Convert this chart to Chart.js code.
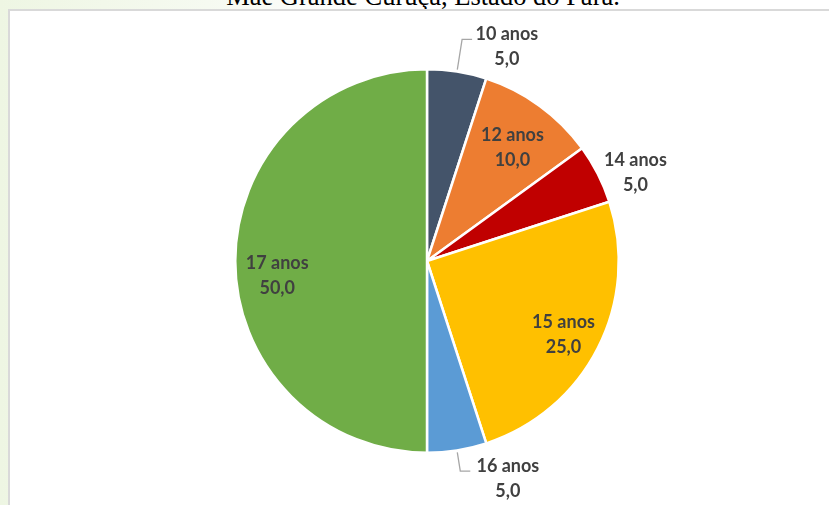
<!DOCTYPE html>
<html>
<head>
<meta charset="utf-8">
<script src="https://cdn.jsdelivr.net/npm/chart.js@4.4.0/dist/chart.umd.min.js"></script>
<style>
  html, body { margin:0; padding:0; }
  body { width:829px; height:505px; overflow:hidden; position:relative;
         background: linear-gradient(90deg, #eef6e3 0%, #f6faf1 25%, #ffffff 45%, #ffffff 100%); }
  #title { position:absolute; left:0; width:846px; top:-17px; text-align:center;
           font-family:"Liberation Serif","Times New Roman",serif; font-size:26.5px; line-height:26.5px; color:#000; white-space:nowrap; }
  #frame { position:absolute; left:8px; top:9px; width:840px; height:520px; border:2px solid #d9d9d9; background:#fff; }
  #c { position:absolute; left:0; top:0; }
</style>
</head>
<body>
<div id="title">Mãe Grande Curuçá, Estado do Pará.</div>
<div id="frame"></div>
<canvas id="c" width="829" height="505"></canvas>
<script>
const categories = ["10 anos", "12 anos", "14 anos", "15 anos", "16 anos", "17 anos"];
const values = [5.0, 10.0, 5.0, 25.0, 5.0, 50.0];
const colors = ["#44546A", "#ED7D31", "#C00000", "#FFC000", "#5B9BD5", "#70AD47"];

// label placement: polar offset from pie centre (deg clockwise from top, radius fraction)
const labelPlacement = [
  {angle: 20.4, r: 1.195, leader: 1.17},
  {angle: 37.0, r: 0.74},
  {angle: 67.1, r: 1.18},
  {angle: 118.5, r: 0.81},
  {angle: 159.6, r: 1.21, leader: 1.11},
  {angle: 264.3, r: 0.785}
];

const labelPlugin = {
  id: 'pieLabels',
  afterDatasetsDraw(chart) {
    const ctx = chart.ctx;
    const meta = chart.getDatasetMeta(0);
    ctx.save();
    ctx.font = '700 18px Lato, "Open Sans", sans-serif';
    ctx.fillStyle = '#404040';
    ctx.textAlign = 'center';
    ctx.textBaseline = 'middle';
    meta.data.forEach((arc, i) => {
      const p = arc.getProps(['x','y','outerRadius','startAngle','endAngle'], true);
      const R = p.outerRadius;
      const lp = labelPlacement[i];
      const a = (lp.angle - 90) * Math.PI / 180;
      const lx = p.x + Math.cos(a) * R * lp.r;
      const ly = p.y + Math.sin(a) * R * lp.r;
      if (lp.leader) {
        const mid = (p.startAngle + p.endAngle) / 2;
        const sx = p.x + Math.cos(mid) * (R + 2);
        const sy = p.y + Math.sin(mid) * (R + 2);
        const ex = p.x + Math.cos(mid) * R * lp.leader;
        const ey = p.y + Math.sin(mid) * R * lp.leader;
        ctx.strokeStyle = '#a6a6a6';
        ctx.lineWidth = 1.3;
        ctx.beginPath();
        ctx.moveTo(sx, sy);
        ctx.lineTo(ex, ey);
        ctx.lineTo(ex + 10, ey);
        ctx.stroke();
      }
      const v = chart.data.datasets[0].data[i].toFixed(1).replace('.', ',');
      ctx.fillText(chart.data.labels[i], lx, ly - 12.5);
      ctx.fillText(v, lx, ly + 12.5);
    });
    ctx.restore();
  }
};

new Chart(document.getElementById('c'), {
  type: 'pie',
  data: {
    labels: categories,
    datasets: [{
      data: values,
      backgroundColor: colors,
      borderColor: '#ffffff',
      borderWidth: 2.5
    }]
  },
  options: {
    responsive: false,
    animation: false,
    layout: { padding: { left: 234, right: 209, top: 68, bottom: 51 } },
    plugins: {
      legend: { display: false },
      tooltip: { enabled: false },
      title: { display: false }
    }
  },
  plugins: [labelPlugin]
});
</script>
</body>
</html>
